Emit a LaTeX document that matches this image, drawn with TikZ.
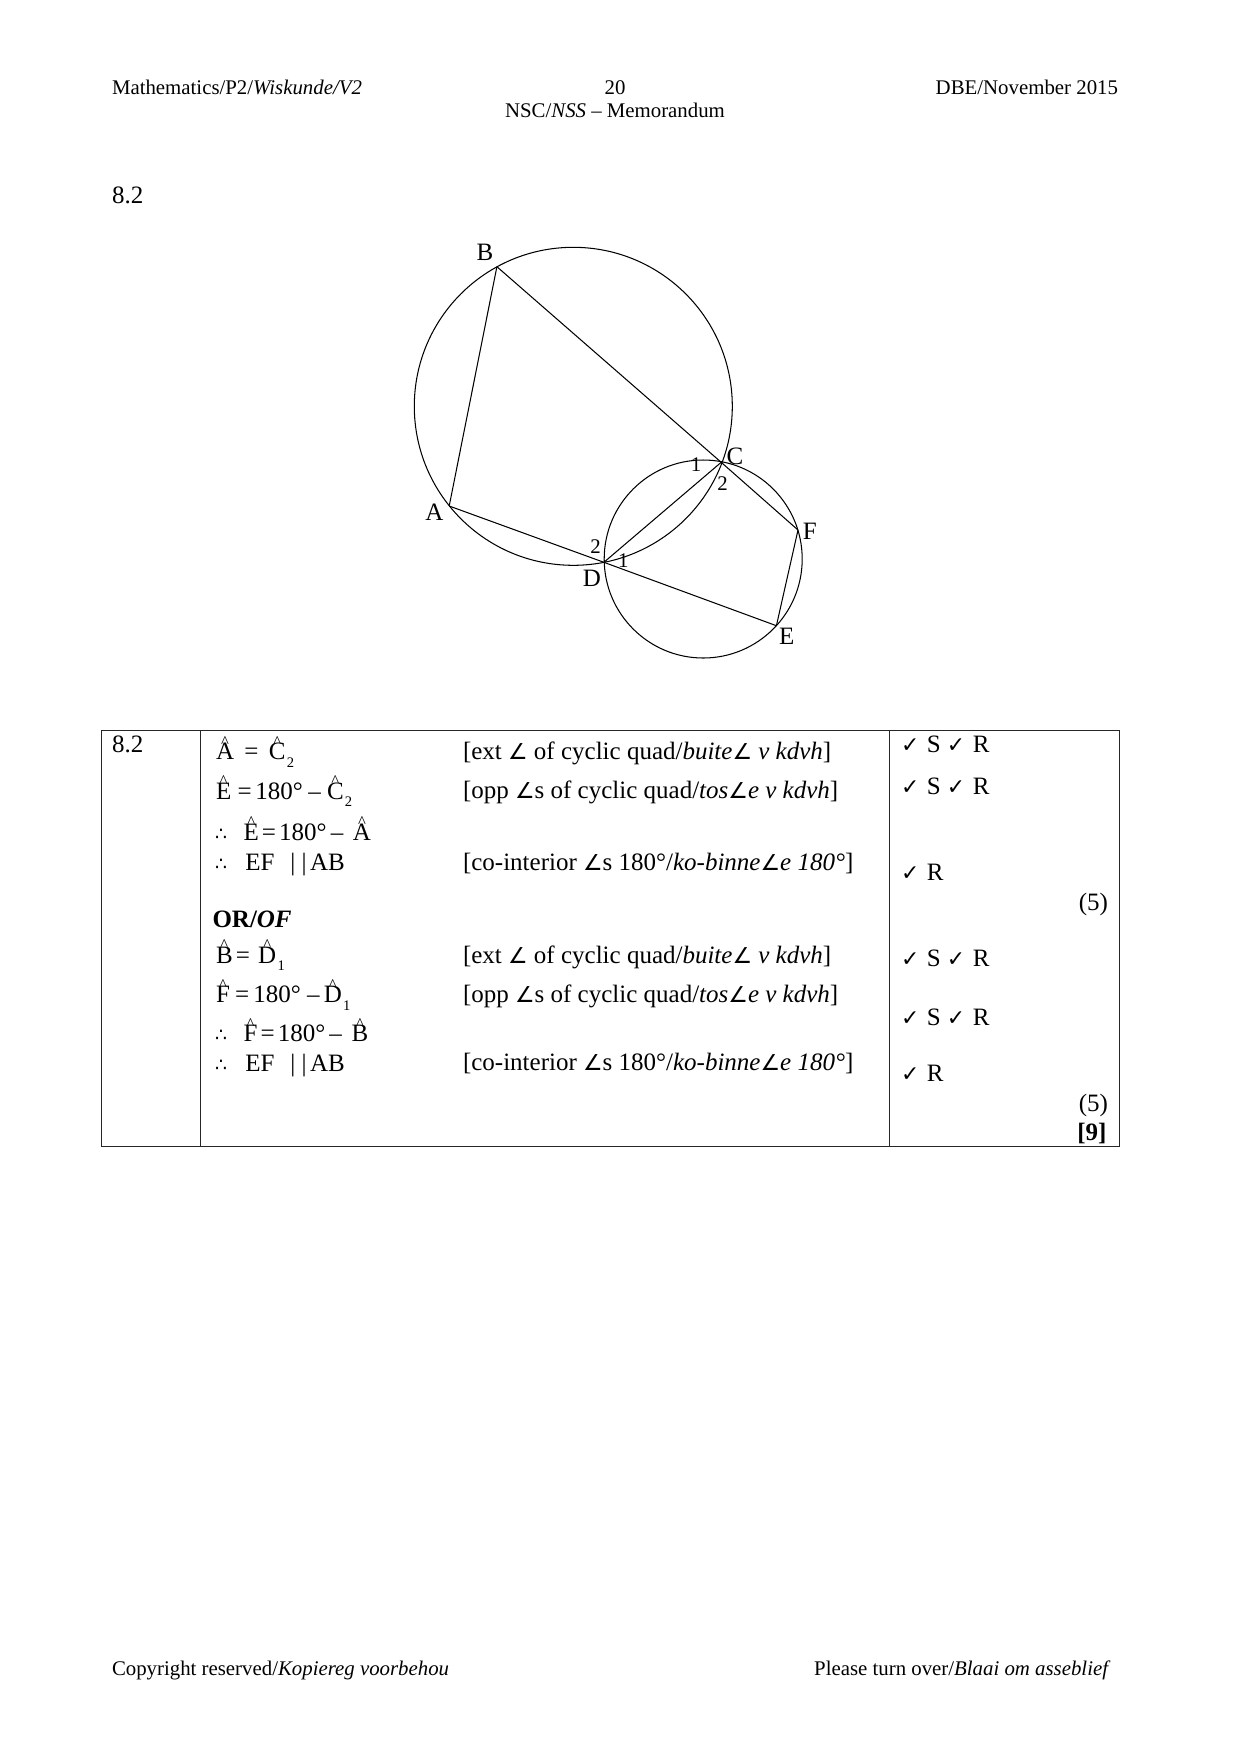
\documentclass[tikz,border=0pt]{standalone}
\usepackage{fontspec}
\setmainfont{Liberation Serif}
\newfontfamily\symf{DejaVu Sans}
\newcommand{\ang}{{\symf\upshape\fontsize{10.5}{12}\selectfont ∠}}
\newcommand{\thus}{{\symf\fontsize{9}{12}\selectfont ∴}}
\newcommand{\chk}{{\symf\fontsize{10.5}{12}\selectfont ✓}\hspace*{0.6pt}}
\newcommand{\hatted}[1]{\setbox0\hbox{#1}\makebox[0pt][l]{\makebox[\wd0][c]{\raisebox{5.9pt}{\fontsize{8}{9}\selectfont\^{}}}}#1}
\newcommand{\lowsub}[1]{\hspace*{0.6pt}\raisebox{-3.6pt}{\fontsize{7}{8}\selectfont #1}}
\newcommand{\hs}[1]{\hspace*{#1pt}}
\tikzset{
  every node/.style={inner sep=0pt,outer sep=0pt},
  txt/.style={anchor=base west,font=\fontsize{12}{14}\selectfont},
  txtr/.style={anchor=base east,font=\fontsize{12}{14}\selectfont},
  small/.style={font=\fontsize{10}{12}\selectfont},
  txtc/.style={anchor=base,font=\fontsize{12}{14}\selectfont},
  ptlabel/.style={anchor=center,font=\fontsize{12}{14}\selectfont},
  anglabel/.style={anchor=center,font=\fontsize{10}{12}\selectfont},
  geo/.style={line width=0.5pt,black},
  rule/.style={line width=0.42pt,black!85}
}
\begin{document}
\begin{tikzpicture}[x=0.48pt,y=-0.48pt]
\useasboundingbox (0,0) rectangle (1241,1755);
% header
\node[txt,small] (h1) at (112,94) {Mathematics/P2/\textit{Wiskunde/V2}};
\node[txtc,small] (h2) at (615,94) {20};
\node[txtr,small] (h3) at (1118,94) {DBE/November 2015};
\node[txtc,small] (h4) at (615,117.5) {NSC/\textit{NSS} – Memorandum};
\node[txt] (q) at (112,203) {8.2};
% diagram
\coordinate (cbig) at (573.3,406.3);
\coordinate (csmall) at (703.2,559);
\coordinate (A) at (449.2,506);
\coordinate (B) at (496.9,266.7);
\coordinate (C) at (721.2,462.3);
\coordinate (D) at (603.9,562.3);
\coordinate (E) at (776.4,625.7);
\coordinate (F) at (798,530);
\draw[geo] (cbig) circle [radius=159];
\draw[geo] (csmall) circle [radius=99];
\draw[geo] (A) -- (B);
\draw[geo] (B) -- (C);
\draw[geo] (C) -- (F);
\draw[geo] (F) -- (E);
\draw[geo] (E) -- (D);
\draw[geo] (D) -- (A);
\draw[geo] (C) -- (D);
\node[ptlabel] (lB) at (485,252.7) {B};
\node[ptlabel] (lA) at (434.3,512.7) {A};
\node[ptlabel] (lC) at (735,456.7) {C};
\node[ptlabel] (lD) at (592,578) {D};
\node[ptlabel] (lE) at (786.7,636.7) {E};
\node[ptlabel] (lF) at (809.8,531.7) {F};
\node[anglabel] (c1) at (696,465) {1};
\node[anglabel] (c2) at (722.5,484) {2};
\node[anglabel] (d2) at (595.5,546.7) {2};
\node[anglabel] (d1) at (623.3,560.7) {1};
% table
\coordinate (tl) at (101,730);
\coordinate (br) at (1119.8,1146);
\coordinate (c1t) at (200.5,730);
\coordinate (c1b) at (200.5,1146);
\coordinate (c2t) at (889,730);
\coordinate (c2b) at (889,1146);
\draw[rule] (tl) rectangle (br);
\draw[rule] (c1t) -- (c1b);
\draw[rule] (c2t) -- (c2b);
\node[txt] (t0) at (112,752.5) {8.2};
% working
\node[txt] (w1) at (216,759.5) {\hatted{A}\hs{5}=\hs{5}\hatted{C}\lowsub{2}};
\node[txt] (w2) at (216,799) {\hatted{E}\hs{3}=\hs{1.8}180°\hs{2.6}–\hs{3}\hatted{C}\lowsub{2}};
\node[txt] (w3) at (215,840) {\thus\hs{8}\hatted{E}\hs{1.5}=\hs{1.5}180°\hs{2}–\hs{4.6}\hatted{A}};
\node[txt] (w4) at (215,870) {\thus\hs{8.8}EF\hs{7.6}|\hs{3}|\hs{1.7}AB};
\node[txt] (w5) at (212.5,927) {\textbf{OR/\textit{OF}}};
\node[txt] (w6) at (216,963) {\hatted{B}\hs{1.5}=\hs{4}\hatted{D}\lowsub{1}};
\node[txt] (w7) at (216,1002.7) {\hatted{F}\hs{2.5}=\hs{2}180°\hs{3}–\hs{2}\hatted{D}\lowsub{1}};
\node[txt] (w8) at (215,1041.7) {\thus\hs{8}\hatted{F}\hs{1.5}=\hs{1.5}180°\hs{2}–\hs{4.6}\hatted{B}};
\node[txt] (w9) at (215,1071) {\thus\hs{8.8}EF\hs{7.6}|\hs{3}|\hs{1.7}AB};
% reasons
\node[txt] (r1) at (463,759.5) {[ext \ang\ of cyclic quad/\textit{buite}\ang\ \textit{v kdvh}]};
\node[txt] (r2) at (463,798) {[opp \ang s of cyclic quad/\textit{tos}\ang\textit{e v kdvh}]};
\node[txt] (r3) at (463,870) {[co-interior \ang s 180°/\textit{ko-binne}\ang\textit{e 180°}]};
\node[txt] (r4) at (463,963) {[ext \ang\ of cyclic quad/\textit{buite}\ang\ \textit{v kdvh}]};
\node[txt] (r5) at (463,1002.7) {[opp \ang s of cyclic quad/\textit{tos}\ang\textit{e v kdvh}]};
\node[txt] (r6) at (463,1070) {[co-interior \ang s 180°/\textit{ko-binne}\ang\textit{e 180°}]};
% marks
\node[txt] (m1) at (901,752.7) {\chk\ S \chk\ R};
\node[txt] (m2) at (901,794) {\chk\ S \chk\ R};
\node[txt] (m3) at (901,880) {\chk\ R};
\node[txtr] (m4) at (1108,910) {(5)};
\node[txt] (m5) at (901,966.7) {\chk\ S \chk\ R};
\node[txt] (m6) at (901,1025) {\chk\ S \chk\ R};
\node[txt] (m7) at (901,1081.7) {\chk\ R};
\node[txtr] (m8) at (1108,1111.7) {(5)};
\node[txtr] (m9) at (1106.5,1140.5) {\textbf{[9]}};
% footer
\node[txt,small] (f1) at (112,1675) {Copyright reserved/\textit{Kopiereg voorbehou}};
\node[txtr,small] (f2) at (1110.5,1675) {Please turn over/\textit{Blaai om asseblief}};
\end{tikzpicture}
\end{document}
